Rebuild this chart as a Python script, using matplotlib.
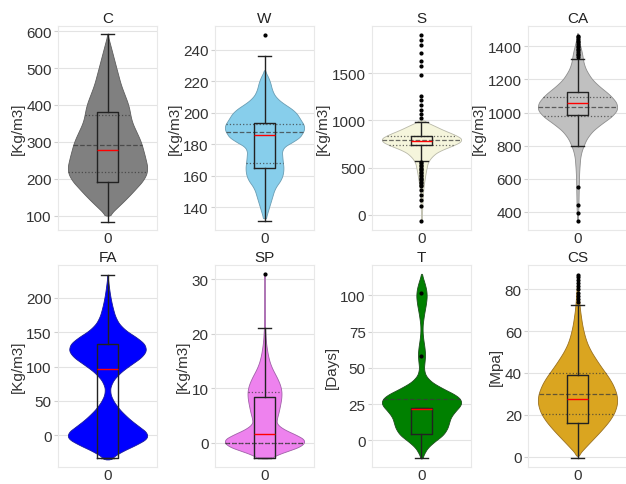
import numpy as np
import matplotlib
matplotlib.use("Agg")
import matplotlib.pyplot as plt

plt.rcParams['font.family'] = ['Liberation Sans', 'DejaVu Sans']
plt.rcParams['font.size'] = 11

names = ['C', 'W', 'S', 'CA', 'FA', 'SP', 'T', 'CS']
units = ['[Kg/m3]', '[Kg/m3]', '[Kg/m3]', '[Kg/m3]', '[Kg/m3]', '[Kg/m3]', '[Days]', '[Mpa]']
colors = ['grey', 'skyblue', 'beige', 'silver', 'blue', 'violet', 'green', 'goldenrod']
edges = ['#5e5e5e', '#6a9db3', '#b8b8a8', '#8e8e8e', '#1a1a9a', '#a060a8', '#1d4d1d', '#9a7020']

# density profiles (value levels and relative half-widths)
c_y = [100, 118, 145, 173, 200, 226, 260, 300, 355, 400, 455, 500, 550, 591]
c_w = [0.03, 0.2, 0.46, 0.7, 0.92, 1.0, 0.93, 0.83, 0.6, 0.52, 0.33, 0.22, 0.1, 0.0]
w_y = [133, 139, 145, 152, 158, 164, 170, 177, 180, 183, 190.5, 201, 206, 209, 213, 221, 227]
w_w = [0.03, 0.1, 0.17, 0.25, 0.42, 0.47, 0.44, 0.42, 0.55, 0.83, 1.0, 0.75, 0.45, 0.3, 0.2, 0.12, 0.0]
s_y = [-75, 0, 200, 310, 450, 560, 630, 680, 735, 790, 840, 890, 950, 1000]
s_w = [0.0, 0.01, 0.03, 0.05, 0.1, 0.15, 0.27, 0.43, 0.76, 1.0, 0.84, 0.55, 0.27, 0.02]
ca_y = [340, 400, 541, 642, 743, 804, 864, 915, 955, 996, 1036, 1087, 1138, 1178, 1229, 1290, 1350, 1430, 1481]
ca_w = [0.0, 0.02, 0.03, 0.04, 0.07, 0.15, 0.27, 0.48, 0.72, 0.93, 1.0, 0.88, 0.64, 0.43, 0.27, 0.15, 0.12, 0.04, 0.0]
fa_y = [-35, -28, -18, -9, 0, 8, 18, 30, 42, 54, 63, 75, 87, 99, 109, 118, 128, 138, 147, 157, 169, 183, 200, 217, 233]
fa_w = [0.03, 0.2, 0.5, 0.85, 1.0, 0.85, 0.62, 0.4, 0.22, 0.1, 0.05, 0.08, 0.22, 0.45, 0.7, 0.88, 0.92, 0.8,
        0.55, 0.33, 0.2, 0.13, 0.07, 0.03, 0.0]
sp_y = [-2.8, -1.8, -0.9, 0, 1.2, 2.1, 3.0, 3.9, 5.2, 6.4, 7.6, 8.8, 10, 11.2, 12.4, 13.9, 15.8, 18.5, 21.5, 25, 31]
sp_w = [0.05, 0.4, 0.7, 1.0, 0.78, 0.55, 0.27, 0.25, 0.3, 0.33, 0.36, 0.38, 0.37, 0.32, 0.25, 0.15, 0.08,
        0.03, 0.01, 0.005, 0.0]
t_y = [-12.5, -8.6, -3, 1.6, 6, 12, 17.5, 22, 26.6, 29, 33, 38, 42.5, 47, 52, 57, 63, 70, 77, 83, 90, 96,
       102, 106, 111, 115]
t_w = [0.01, 0.07, 0.2, 0.45, 0.6, 0.67, 0.72, 0.9, 1.0, 0.97, 0.72, 0.35, 0.14, 0.06, 0.06, 0.09, 0.08,
       0.04, 0.02, 0.04, 0.08, 0.12, 0.13, 0.1, 0.05, 0.0]
cs_y = [0.3, 1.9, 5, 9, 13.7, 18.5, 23.2, 27.9, 32.7, 37.4, 42.1, 46.9, 51.6, 56.3, 62.6, 70.5, 78, 87]
cs_w = [0.0, 0.07, 0.22, 0.42, 0.65, 0.85, 0.97, 1.0, 0.93, 0.8, 0.62, 0.45, 0.3, 0.2, 0.12, 0.06, 0.03, 0.0]

prof_y = [c_y, w_y, s_y, ca_y, fa_y, sp_y, t_y, cs_y]
prof_w = [c_w, w_w, s_w, ca_w, fa_w, sp_w, t_w, cs_w]

# box stats: q1, median, q3, lower whisker, upper whisker
q1 = [191, 164.6, 735, 985, -33, -2.8, 4.3, 16.1]
med = [277, 185.5, 780, 1058, 96, 1.6, 21.5, 27.6]
q3 = [380, 193.7, 835, 1123, 133, 8.5, 22, 39]
wlo = [84, 131, 571, 797, -33, -2.8, -12.5, -0.8]
whi = [591, 235.8, 986, 1323, 233, 21.1, 22, 72.6]
fliers = [
    [],
    [249],
    [1028, 1064, 1110, 1163, 1216, 1252, 1482, 1571, 1624, 1713, 1801, 1854, 1907,
     560, 545, 530, 515, 500, 485, 470, 455, 440, 425, 410, 395, 380, 365, 350, 335, 320, 305,
     258, 205, 152, 99, -62],
    [1335, 1345, 1355, 1365, 1375, 1385, 1395, 1405, 1415, 1425, 1435, 1445, 1455, 1465,
     548, 440, 395, 342],
    [],
    [31.0],
    [58, 102],
    [74, 75.5, 77, 78.5, 80, 81.5, 83, 84.5, 86, 87],
]

# inner quartile lines of the violins (lower, median, upper)
inner_q = [
    (218, 291, 373),
    (168, 187.8, 193),
    (740, 790, 838),
    (977, 1036, 1093),
    (None, None, None),
    (0, 0, 9.4),
    (None, 28.4, None),
    (20.4, 30, 39.8),
]

ylims = [(61, 614), (125.5, 255), (-160, 1997), (290, 1523), (-46, 247.5), (-4.4, 32.6), (-18.5, 121), (-5, 91.7)]
yticks = [np.arange(100, 601, 100), np.arange(140, 241, 20), [0, 500, 1000, 1500],
          np.arange(400, 1401, 200), np.arange(0, 201, 50), [0, 10, 20, 30],
          np.arange(0, 101, 25), np.arange(0, 81, 20)]


def smooth_outline(ys, ws, n=300, k=9):
    # resample the outline on a fine grid and round off its corners
    grid = np.linspace(ys[0], ys[-1], n)
    w = np.interp(grid, ys, ws)
    pad = np.pad(w, k, mode='edge')
    kern = np.ones(2 * k + 1) / (2 * k + 1)
    w = np.convolve(pad, kern, mode='same')[k:-k]
    w[0], w[-1] = ws[0], ws[-1]
    return grid, w


fig = plt.figure(figsize=(6.26, 4.85), dpi=100)
lefts = [58, 215, 372, 528]
for i, name in enumerate(names):
    row, col = divmod(i, 4)
    top, h = (27, 204) if row == 0 else (266, 202)
    ax = fig.add_axes([lefts[col] / 626, 1 - (top + h) / 485, 99 / 626, h / 485])
    ax.set_axisbelow(True)
    ax.grid(axis='y', color='#e3e3e3', linewidth=0.8)
    for sp in ax.spines.values():
        sp.set_color('#e8e8e8')

    coords, vals = smooth_outline(np.array(prof_y[i], float), np.array(prof_w[i], float))
    stats = [dict(coords=coords, vals=vals, mean=med[i], median=med[i],
                  min=coords.min(), max=coords.max())]
    parts = ax.violin(stats, positions=[0], widths=0.8, showmeans=False,
                      showextrema=False, showmedians=False)
    for body in parts['bodies']:
        body.set_facecolor(colors[i])
        body.set_edgecolor(edges[i])
        body.set_linewidth(0.6)
        body.set_alpha(1)

    for k, q in enumerate(inner_q[i]):
        if q is None:
            continue
        hw = np.interp(q, coords, vals) / vals.max() * 0.4
        ax.hlines(q, -hw, hw, colors='#3a3a3a', linewidth=0.9, alpha=0.75,
                  linestyles='--' if k == 1 else ':')

    bstat = [dict(q1=q1[i], med=med[i], q3=q3[i], whislo=wlo[i], whishi=whi[i], fliers=fliers[i])]
    ax.bxp(bstat, positions=[0], widths=0.21, capwidths=0.13, patch_artist=False,
           boxprops=dict(color='#222222', linewidth=1),
           whiskerprops=dict(color='#222222', linewidth=1),
           capprops=dict(color='#222222', linewidth=1),
           medianprops=dict(color='red', linewidth=1),
           flierprops=dict(marker='o', markersize=2, markerfacecolor='black',
                           markeredgecolor='black'))

    ax.set_xlim(-0.5, 0.5)
    ax.set_xticks([0])
    ax.set_xticklabels(['0'])
    ax.set_ylim(*ylims[i])
    ax.set_yticks(yticks[i])
    ax.tick_params(colors='#333333', labelsize=11, length=3, width=0.8)
    ax.tick_params(axis='x', length=0, pad=1)
    ax.tick_params(axis='y', color='#d0d0d0', pad=1.5)
    ax.set_title(name, fontsize=11, color='#222222', pad=3)
    ax.set_ylabel(units[i], fontsize=11, color='#333333', labelpad=1)

fig.savefig('out.png', dpi=100)
